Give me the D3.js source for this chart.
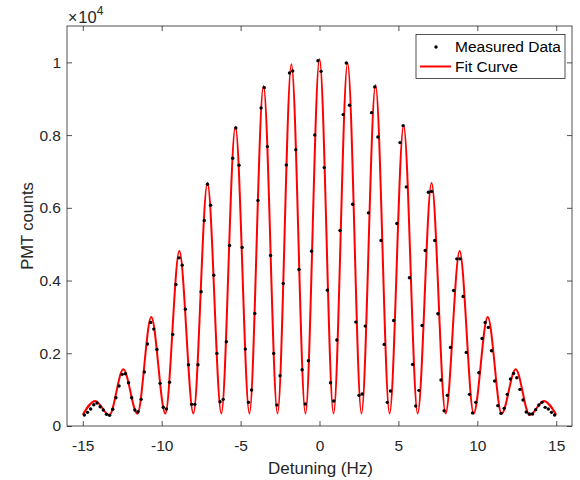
<!DOCTYPE html>
<html>
<head>
<meta charset="utf-8">
<script src="https://cdn.jsdelivr.net/npm/d3@7"></script>
<style>
  html, body { margin: 0; padding: 0; background: #fff; }
  svg { display: block; font-family: "Liberation Sans", Arial, Helvetica, sans-serif; }
</style>
</head>
<body>
<svg id="chart" width="580" height="480"></svg>
<script>
// ---- Data ----
const detuning = [
  -14.9, -14.7, -14.5, -14.3, -14.1, -13.9, -13.7, -13.5, -13.3, -13.1,
  -12.9, -12.7, -12.5, -12.3, -12.1, -11.9, -11.7, -11.5, -11.3, -11.1,
  -10.9, -10.7, -10.5, -10.3, -10.1, -9.9, -9.7, -9.5, -9.3, -9.1,
  -8.9, -8.7, -8.5, -8.3, -8.1, -7.9, -7.7, -7.5, -7.3, -7.1,
  -6.9, -6.7, -6.5, -6.3, -6.1, -5.9, -5.7, -5.5, -5.3, -5.1,
  -4.9, -4.7, -4.5, -4.3, -4.1, -3.9, -3.7, -3.5, -3.3, -3.1,
  -2.9, -2.7, -2.5, -2.3, -2.1, -1.9, -1.7, -1.5, -1.3, -1.1,
  -0.9, -0.7, -0.5, -0.3, -0.1, 0.1, 0.3, 0.5, 0.7, 0.9,
  1.1, 1.3, 1.5, 1.7, 1.9, 2.1, 2.3, 2.5, 2.7, 2.9,
  3.1, 3.3, 3.5, 3.7, 3.9, 4.1, 4.3, 4.5, 4.7, 4.9,
  5.1, 5.3, 5.5, 5.7, 5.9, 6.1, 6.3, 6.5, 6.7, 6.9,
  7.1, 7.3, 7.5, 7.7, 7.9, 8.1, 8.3, 8.5, 8.7, 8.9,
  9.1, 9.3, 9.5, 9.7, 9.9, 10.1, 10.3, 10.5, 10.7, 10.9,
  11.1, 11.3, 11.5, 11.7, 11.9, 12.1, 12.3, 12.5, 12.7, 12.9,
  13.1, 13.3, 13.5, 13.7, 13.9, 14.1, 14.3, 14.5, 14.7, 14.9
];
const measuredCounts = [
  302, 376, 467, 585, 632, 530, 440, 321, 294, 459,
  777, 1099, 1420, 1437, 1190, 777, 440, 393, 733, 1484,
  2253, 2849, 2665, 2107, 1173, 514, 467, 1201, 2519, 3893,
  4624, 4423, 3214, 1684, 596, 596, 1684, 3690, 5651, 6648,
  6071, 4148, 1996, 668, 733, 2317, 4963, 7363, 8195, 7170,
  4908, 2115, 650, 989, 3095, 6200, 8745, 9305, 7683, 4689,
  1996, 577, 1383, 3920, 7180, 9707, 9762, 7600, 4305, 1547,
  604, 1794, 4808, 8003, 10046, 9753, 7106, 3736, 1190, 687,
  2363, 5376, 8563, 9982, 8819, 6099, 2857, 843, 879, 2747,
  5861, 8617, 9322, 7948, 5101, 2244, 650, 962, 2903, 5568,
  7793, 8259, 6575, 4075, 1694, 549, 980, 2765, 4826, 6429,
  6447, 5101, 3086, 1264, 421, 843, 2161, 3727, 4597, 4597,
  3562, 2024, 870, 360, 650, 1465, 2408, 2848, 2711, 2070,
  1236, 559, 348, 486, 870, 1291, 1447, 1328, 1007, 714,
  385, 330, 330, 449, 577, 650, 513, 467, 376, 302
];
// Fit curve: its turning points (peaks and troughs)
const fitX = [
  -15, -14.21, -13.32, -12.43, -11.54, -10.66, -9.77, -8.88, -7.99, -7.10,
  -6.22, -5.33, -4.44, -3.55, -2.66, -1.78, -0.89, 0, 0.89, 1.78,
  2.66, 3.55, 4.44, 5.33, 6.22, 7.10, 7.99, 8.88, 9.77, 10.66,
  11.54, 12.43, 13.32, 14.21, 15
];
const fitY = [
  310, 690, 300, 1560, 340, 3000, 345, 4810, 345, 6680,
  345, 8230, 345, 9350, 345, 9950, 345, 10090, 345, 9980,
  345, 9380, 345, 8260, 345, 6680, 345, 4810, 345, 3000,
  340, 1560, 300, 690, 310
];
const xTicks = [-15, -10, -5, 0, 5, 10, 15];
const yTicks = [0, 2000, 4000, 6000, 8000, 10000];
const yTickLabels = ["0", "0.2", "0.4", "0.6", "0.8", "1"];
const legendLabels = ["Measured Data", "Fit Curve"];

// ---- Drawing ----
const svg = d3.select("#chart");
const L = 67, R = 572, T = 26, B = 426;
const axisColor = "#262626";

const x = d3.scaleLinear().domain([-16, 16]).range([L, R]);
const y = d3.scaleLinear().domain([0, 11000]).range([B, T]);

svg.append("rect").attr("x", L).attr("y", T).attr("width", R - L).attr("height", B - T)
  .attr("fill", "#fff");

function styleAxis(g) {
  g.selectAll("path.domain").remove();
  g.selectAll(".tick line").attr("stroke", axisColor).attr("stroke-width", 0.8);
  g.selectAll(".tick text").attr("fill", axisColor).attr("font-size", 15.5)
    .attr("font-family", "\"Liberation Sans\", Arial, sans-serif");
}
svg.append("g").attr("transform", `translate(0,${B})`)
  .call(d3.axisBottom(x).tickValues(xTicks).tickSizeInner(-5).tickSizeOuter(0).tickPadding(14)
    .tickFormat(d => d < 0 ? "-" + Math.abs(d) : String(d)))
  .call(styleAxis);
svg.append("g").attr("transform", `translate(0,${T})`)
  .call(d3.axisTop(x).tickValues(xTicks).tickSizeInner(-5).tickSizeOuter(0).tickFormat(""))
  .call(styleAxis);
svg.append("g").attr("transform", `translate(${L},0)`)
  .call(d3.axisLeft(y).tickValues(yTicks).tickSizeInner(-5).tickSizeOuter(0).tickPadding(6)
    .tickFormat((d, i) => yTickLabels[i]))
  .call(styleAxis);
svg.append("g").attr("transform", `translate(${R},0)`)
  .call(d3.axisRight(y).tickValues(yTicks).tickSizeInner(-5).tickSizeOuter(0).tickFormat(""))
  .call(styleAxis);

svg.append("rect").attr("x", L).attr("y", T).attr("width", R - L).attr("height", B - T)
  .attr("fill", "none").attr("stroke", axisColor).attr("stroke-width", 0.8);

// Exponent label
const expo = svg.append("text").attr("x", 68).attr("y", 22.5).attr("fill", axisColor)
  .attr("font-size", 16.5);
expo.append("tspan").text("\u00d7").attr("font-size", 16);
expo.append("tspan").text("10").attr("dx", 1);
expo.append("tspan").text("4").attr("font-size", 12).attr("dy", -7.5);

// Axis labels
svg.append("text").attr("x", (L + R) / 2 + 1).attr("y", 474).attr("text-anchor", "middle")
  .attr("fill", axisColor).attr("font-size", 17).text("Detuning (Hz)");
svg.append("text").attr("transform", `translate(33,${(T + B) / 2}) rotate(-90)`)
  .attr("text-anchor", "middle").attr("fill", axisColor).attr("font-size", 16.5).text("PMT counts");

// Fit curve
const fitData = fitX.map((v, i) => [v, fitY[i]]);
const line = d3.line().x(d => x(d[0])).y(d => y(d[1])).curve(d3.curveMonotoneX);
svg.append("path").datum(fitData).attr("d", line)
  .attr("fill", "none").attr("stroke", "#ff0000").attr("stroke-width", 2);

// Measured points
svg.append("g").selectAll("circle").data(detuning.map((v, i) => [v, measuredCounts[i]]))
  .join("circle").attr("cx", d => x(d[0])).attr("cy", d => y(d[1])).attr("r", 1.7)
  .attr("fill", "#000");

// Legend
const lg = svg.append("g");
lg.append("rect").attr("x", 416).attr("y", 34.5).attr("width", 149).attr("height", 44)
  .attr("fill", "#fff").attr("stroke", axisColor).attr("stroke-width", 0.8);
lg.append("circle").attr("cx", 436).attr("cy", 47).attr("r", 1.7).attr("fill", "#000");
lg.append("line").attr("x1", 420).attr("x2", 451).attr("y1", 66.5).attr("y2", 66.5)
  .attr("stroke", "#ff0000").attr("stroke-width", 2);
lg.selectAll("text.lab").data(legendLabels).join("text").attr("class", "lab")
  .attr("x", 455).attr("y", (d, i) => 47 + i * 19.5).attr("dy", "0.35em")
  .attr("font-size", 15.5).attr("fill", "#000").text(d => d);
</script>
</body>
</html>
